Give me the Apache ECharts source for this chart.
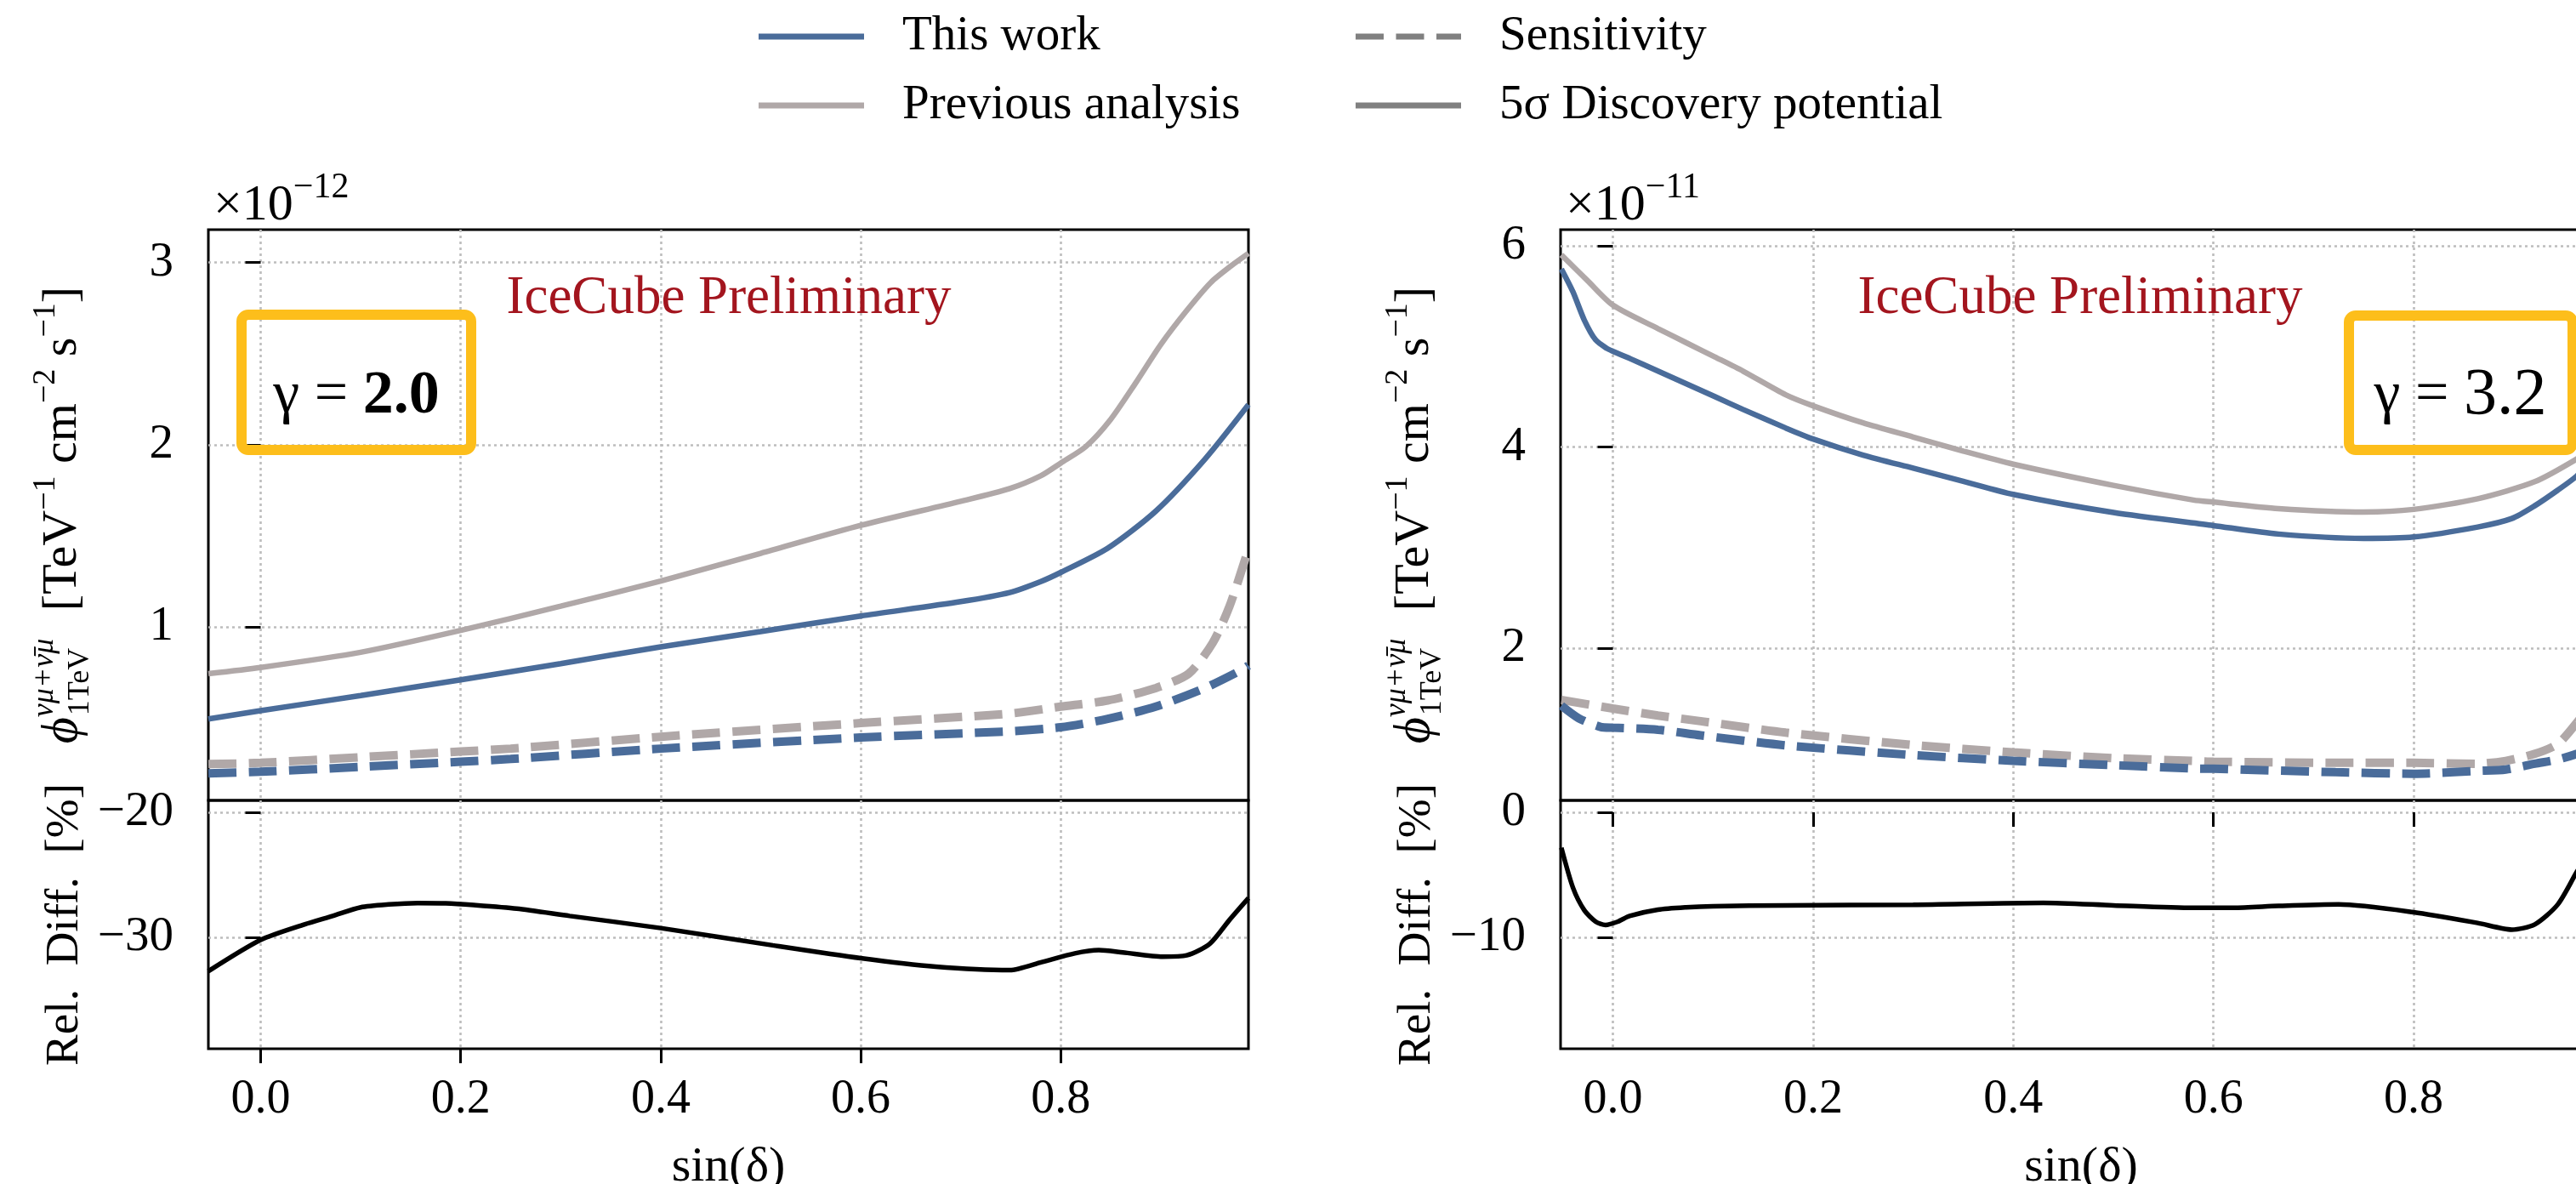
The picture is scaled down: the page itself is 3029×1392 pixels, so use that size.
<!DOCTYPE html>
<html>
<head>
<meta charset="utf-8">
<script src="https://cdn.jsdelivr.net/npm/echarts@6/dist/echarts.min.js"></script>
<style>
html,body{margin:0;padding:0;background:#fff;}
#chart{width:3029px;height:1392px;}
</style>
</head>
<body>
<div id="chart"></div>
<script>
// ================= DATA =================
// x = sin(declination). Left panel: gamma = 2.0, flux in units of 1e-12.
const xTicks = [0.0, 0.2, 0.4, 0.6, 0.8];
const leftTopTicks = [1, 2, 3];
const leftBotTicks = [-30, -20];
const rightTopTicks = [2, 4, 6];
const rightBotTicks = [-10, 0];

// Left: 5 sigma discovery potential
const L_x_thisDP = [-0.0523, 0, 0.1, 0.2, 0.3, 0.4, 0.5, 0.6, 0.7, 0.749, 0.78, 0.8, 0.847, 0.895, 0.944, 0.9877];
const L_y_thisDP = [0.497, 0.542, 0.625, 0.711, 0.800, 0.892, 0.976, 1.061, 1.140, 1.190, 1.250, 1.300, 1.433, 1.636, 1.920, 2.220];
const L_x_prevDP = [-0.0523, 0, 0.1, 0.2, 0.3, 0.4, 0.5, 0.6, 0.7, 0.749, 0.78, 0.8, 0.825, 0.85, 0.875, 0.9, 0.925, 0.95, 0.97, 0.9877];
const L_y_prevDP = [0.745, 0.779, 0.862, 0.982, 1.115, 1.253, 1.405, 1.558, 1.690, 1.760, 1.830, 1.900, 1.990, 2.140, 2.340, 2.550, 2.730, 2.890, 2.980, 3.050];
// Left: sensitivity
const L_x_thisSens = [-0.0523, 0, 0.1, 0.2, 0.25, 0.4, 0.6, 0.749, 0.8, 0.847, 0.895, 0.944, 0.9815, 0.9877];
const L_y_thisSens = [0.198, 0.207, 0.234, 0.262, 0.277, 0.334, 0.395, 0.429, 0.451, 0.497, 0.564, 0.666, 0.767, 0.790];
const L_x_prevSens = [-0.0523, 0, 0.1, 0.2, 0.25, 0.4, 0.6, 0.749, 0.8, 0.847, 0.895, 0.928, 0.952, 0.969, 0.9877];
const L_y_prevSens = [0.249, 0.256, 0.287, 0.318, 0.334, 0.399, 0.474, 0.526, 0.564, 0.598, 0.666, 0.745, 0.914, 1.118, 1.430];
// Left: relative difference [%]
const L_x_rel = [-0.0524, 0, 0.0437, 0.072, 0.100, 0.128, 0.157, 0.185, 0.213, 0.256, 0.309, 0.4, 0.512, 0.6, 0.675, 0.749, 0.781, 0.814, 0.838, 0.862, 0.902, 0.926, 0.949, 0.969, 0.9877];
const L_y_rel = [-32.73, -30.22, -28.98, -28.30, -27.61, -27.38, -27.27, -27.29, -27.43, -27.72, -28.30, -29.27, -30.65, -31.68, -32.36, -32.64, -32.00, -31.30, -31.04, -31.22, -31.56, -31.45, -30.53, -28.59, -26.87];

// Right panel: gamma = 3.2, flux in units of 1e-11
const R_x_thisDP = [-0.0515, -0.04, -0.0286, -0.0173, -0.006, 0, 0.0167, 0.045, 0.0734, 0.1018, 0.13, 0.1726, 0.2, 0.25, 0.3, 0.35, 0.4, 0.5, 0.6, 0.665, 0.75, 0.8, 0.864, 0.898, 0.921, 0.944, 0.963, 0.9877];
const R_y_thisDP = [5.77, 5.544, 5.262, 5.065, 4.98, 4.952, 4.881, 4.755, 4.628, 4.501, 4.374, 4.19, 4.08, 3.92, 3.79, 3.66, 3.53, 3.35, 3.22, 3.136, 3.093, 3.107, 3.206, 3.29, 3.417, 3.572, 3.713, 3.95];
const R_x_prevDP = [-0.0515, -0.025, 0, 0.045, 0.0734, 0.1018, 0.13, 0.1726, 0.2, 0.25, 0.3, 0.35, 0.4, 0.5, 0.58, 0.6, 0.665, 0.75, 0.8, 0.864, 0.921, 0.963, 0.9877];
const R_y_prevDP = [5.91, 5.65, 5.41, 5.177, 5.036, 4.896, 4.755, 4.52, 4.41, 4.24, 4.10, 3.96, 3.83, 3.62, 3.474, 3.453, 3.389, 3.355, 3.381, 3.487, 3.656, 3.882, 4.05];
const R_x_thisSens = [-0.0515, -0.034, -0.0125, 0, 0.045, 0.0876, 0.1726, 0.3, 0.4, 0.5, 0.58, 0.6, 0.722, 0.8, 0.864, 0.892, 0.921, 0.944, 0.963, 0.9877];
const R_y_thisSens = [1.431, 1.305, 1.22, 1.212, 1.192, 1.136, 1.037, 0.94, 0.883, 0.84, 0.807, 0.804, 0.77, 0.755, 0.783, 0.797, 0.854, 0.896, 0.952, 1.05];
const R_x_prevSens = [-0.0515, 0, 0.045, 0.0876, 0.1726, 0.3, 0.4, 0.5, 0.58, 0.6, 0.722, 0.8, 0.864, 0.892, 0.921, 0.944, 0.963, 0.9877];
const R_y_prevSens = [1.488, 1.403, 1.333, 1.277, 1.164, 1.04, 0.967, 0.91, 0.882, 0.874, 0.863, 0.863, 0.854, 0.882, 0.952, 1.051, 1.262, 1.6];
const R_x_rel = [-0.0515, -0.04, -0.0286, -0.0173, -0.0074, 0.005, 0.0167, 0.045, 0.073, 0.1, 0.1726, 0.3, 0.43, 0.5, 0.58, 0.62, 0.665, 0.725, 0.8, 0.864, 0.898, 0.921, 0.944, 0.963, 0.9877];
const R_y_rel = [-2.84, -6.02, -7.84, -8.75, -9.02, -8.75, -8.3, -7.8, -7.61, -7.52, -7.45, -7.4, -7.25, -7.45, -7.65, -7.65, -7.5, -7.38, -8.0, -8.86, -9.39, -8.98, -7.38, -4.77, -1.5];

// ================= STYLE =================
const FONT = '"Liberation Serif", "Times New Roman", serif';
const BLUE = '#4a6c9a';
const GRAY = '#b0a8a8';
const LEG_GRAY = '#808080';
const DASH = [33, 14.5];
const ICON_SOLID = 'path://M0,0H124V7H0Z';
const ICON_DASH = 'path://M0,0H33V7H0Z M47.5,0H80.5V7H47.5Z M95,0H124V7H95Z';

function zip(xs, ys) { return xs.map((x, i) => [x, ys[i]]); }
function minus(v) { return (v < 0 ? '\u2212' : '') + Math.abs(v); }

function line(xs, ys, idx, color, dashed) {
  return {
    type: 'line', xAxisIndex: idx, yAxisIndex: idx,
    data: zip(xs, ys), symbol: 'none', smooth: 0.25,
    lineStyle: { color: color, width: dashed ? 10 : 6.5, type: dashed ? DASH : 'solid', cap: 'butt' },
    itemStyle: { color: color }, silent: true
  };
}

const splitLine = { show: true, lineStyle: { type: [3, 4], color: '#bdbdbd', width: 2.6 } };
const X_MIN = -0.0523, X_MAX = 0.9877;

function xAxis(idx, bottom) {
  const a = {
    type: 'value', gridIndex: idx, min: X_MIN, max: X_MAX,
    axisLine: { show: false },
    axisTick: { show: bottom, customValues: xTicks, length: 17, inside: false, lineStyle: { color: '#000', width: 3 } },
    axisLabel: { show: bottom, customValues: xTicks, margin: 32, formatter: v => v.toFixed(1), fontSize: 56, fontFamily: FONT, color: '#000' },
    splitLine: splitLine
  };
  if (bottom) {
    a.name = 'sin(\u03b4)';
    a.nameLocation = 'middle';
    a.nameGap = 108;
    a.nameTextStyle = { fontSize: 58, fontFamily: FONT, color: '#000', lineHeight: 64 };
  }
  return a;
}

const fluxNameRich = {
  phi: { fontSize: 60, fontStyle: 'italic', lineHeight: 78, align: 'left', fontFamily: FONT, color: '#000' },
  sup: { fontSize: 36, fontStyle: 'italic', lineHeight: 36, verticalAlign: 'top', align: 'left', width: 2, fontFamily: FONT, color: '#000' },
  sub: { fontSize: 36, lineHeight: 36, verticalAlign: 'bottom', align: 'left', fontFamily: FONT, color: '#000' },
  r: { fontSize: 58, lineHeight: 78, align: 'left', fontFamily: FONT, color: '#000' },
  e: { fontSize: 38, lineHeight: 38, verticalAlign: 'top', align: 'left', fontFamily: FONT, color: '#000' }
};
const fluxName = '{phi|\u03d5}{sup|\u03bd\u03bc+\u03bd\u0304\u03bc}{sub|1TeV}{r|   [TeV}{e|\u22121}{r| cm}{e|\u22122}{r| s}{e|\u22121}{r|]}';

function yAxis(idx, min, max, ticks, name, rich) {
  return {
    type: 'value', gridIndex: idx, min: min, max: max,
    axisLine: { show: false },
    axisTick: { show: true, customValues: ticks, length: 18, inside: false, lineStyle: { color: '#000', width: 3 } },
    axisLabel: { customValues: ticks, margin: 41, formatter: v => minus(v), fontSize: 57, fontFamily: FONT, color: '#000' },
    splitLine: splitLine,
    name: name, nameLocation: 'middle',
    nameGap: rich ? 132 : 138,
    nameTextStyle: rich ? { rich: fluxNameRich } : { fontSize: 55, lineHeight: 60, fontFamily: FONT, color: '#000' }
  };
}

const gridBase = { show: true, borderColor: '#000', borderWidth: 3, backgroundColor: 'transparent', containLabel: false, outerBoundsMode: 'none' };

const legendText = { fontFamily: FONT, fontSize: 57, color: '#000', lineHeight: 60, padding: [0, 0, 0, 40] };

const option = {
  animation: false,
  backgroundColor: '#fff',
  grid: [
    Object.assign({ left: 245, top: 270, width: 1223, height: 671 }, gridBase),
    Object.assign({ left: 245, top: 941, width: 1223, height: 292 }, gridBase),
    Object.assign({ left: 1835, top: 270, width: 1224, height: 671 }, gridBase),
    Object.assign({ left: 1835, top: 941, width: 1224, height: 292 }, gridBase)
  ],
  xAxis: [xAxis(0, false), xAxis(1, true), xAxis(2, false), xAxis(3, true)],
  yAxis: [
    yAxis(0, 0.05, 3.18, leftTopTicks, fluxName, true),
    yAxis(1, -38.93, -19.05, leftBotTicks, 'Rel.  Diff.  [%]', false),
    yAxis(2, 0.49, 6.16, rightTopTicks, fluxName, true),
    yAxis(3, -18.93, 0.95, rightBotTicks, 'Rel.  Diff.  [%]', false)
  ],
  legend: [
    { orient: 'vertical', left: 892, top: 13, padding: 0, itemWidth: 124, itemHeight: 7, itemGap: 21,
      selectedMode: false, textStyle: legendText,
      data: [{ name: 'This work', icon: ICON_SOLID }, { name: 'Previous analysis', icon: ICON_SOLID }] },
    { orient: 'vertical', left: 1594, top: 13, padding: 0, itemWidth: 124, itemHeight: 7, itemGap: 21,
      selectedMode: false, textStyle: legendText,
      data: [{ name: 'Sensitivity', icon: ICON_DASH }, { name: '5\u03c3 Discovery potential', icon: ICON_SOLID }] }
  ],
  series: [
    // legend proxies (no data)
    { name: 'This work', type: 'line', data: [], symbol: 'none', xAxisIndex: 0, yAxisIndex: 0, itemStyle: { color: BLUE }, lineStyle: { color: BLUE, width: 7 } },
    { name: 'Previous analysis', type: 'line', data: [], symbol: 'none', xAxisIndex: 0, yAxisIndex: 0, itemStyle: { color: GRAY }, lineStyle: { color: GRAY, width: 7 } },
    { name: 'Sensitivity', type: 'line', data: [], symbol: 'none', xAxisIndex: 0, yAxisIndex: 0, itemStyle: { color: LEG_GRAY }, lineStyle: { color: LEG_GRAY, width: 8, type: DASH } },
    { name: '5\u03c3 Discovery potential', type: 'line', data: [], symbol: 'none', xAxisIndex: 0, yAxisIndex: 0, itemStyle: { color: LEG_GRAY }, lineStyle: { color: LEG_GRAY, width: 7 } },
    // left panel
    line(L_x_prevDP, L_y_prevDP, 0, GRAY, false),
    line(L_x_thisDP, L_y_thisDP, 0, BLUE, false),
    line(L_x_prevSens, L_y_prevSens, 0, GRAY, true),
    line(L_x_thisSens, L_y_thisSens, 0, BLUE, true),
    Object.assign(line(L_x_rel, L_y_rel, 1, '#000', false), { lineStyle: { color: '#000', width: 5.5 } }),
    // right panel
    line(R_x_prevDP, R_y_prevDP, 2, GRAY, false),
    line(R_x_thisDP, R_y_thisDP, 2, BLUE, false),
    line(R_x_prevSens, R_y_prevSens, 2, GRAY, true),
    line(R_x_thisSens, R_y_thisSens, 2, BLUE, true),
    Object.assign(line(R_x_rel, R_y_rel, 3, '#000', false), { lineStyle: { color: '#000', width: 5.5 } })
  ],
  graphic: [
    { type: 'text', x: 251, y: 200, z: 20, style: { text: '{a|\u00d710}{s|\u221212}', align: 'left', verticalAlign: 'top',
      rich: { a: { fontSize: 60, lineHeight: 72, verticalAlign: 'bottom', fontFamily: FONT, fill: '#000' },
              s: { fontSize: 42, lineHeight: 42, verticalAlign: 'top', fontFamily: FONT, fill: '#000' } } } },
    { type: 'text', x: 1841, y: 200, z: 20, style: { text: '{a|\u00d710}{s|\u221211}', align: 'left', verticalAlign: 'top',
      rich: { a: { fontSize: 60, lineHeight: 72, verticalAlign: 'bottom', fontFamily: FONT, fill: '#000' },
              s: { fontSize: 42, lineHeight: 42, verticalAlign: 'top', fontFamily: FONT, fill: '#000' } } } },
    { type: 'text', x: 857, y: 351, z: 20, style: { text: 'IceCube Preliminary', fontSize: 63, fontFamily: FONT, fill: '#a3151e', align: 'center', verticalAlign: 'middle' } },
    { type: 'text', x: 2446, y: 351, z: 20, style: { text: 'IceCube Preliminary', fontSize: 63, fontFamily: FONT, fill: '#a3151e', align: 'center', verticalAlign: 'middle' } },
    { type: 'rect', z: 20, shape: { x: 284, y: 370, width: 270, height: 159, r: 8 }, style: { fill: null, stroke: '#fdbe1b', lineWidth: 12 } },
    { type: 'text', x: 419, y: 466, z: 21, style: { text: '{g|\u03b3 = }{b|2.0}', align: 'center', verticalAlign: 'middle',
      rich: { g: { fontSize: 70, fontFamily: FONT, fill: '#000' }, b: { fontSize: 72, fontWeight: 'bold', fontFamily: FONT, fill: '#000' } } } },
    { type: 'rect', z: 20, shape: { x: 2762, y: 371, width: 263, height: 158, r: 8 }, style: { fill: null, stroke: '#fdbe1b', lineWidth: 12 } },
    { type: 'text', x: 2893, y: 466, z: 21, style: { text: '{g|\u03b3 = }{b|3.2}', align: 'center', verticalAlign: 'middle',
      rich: { g: { fontSize: 70, fontFamily: FONT, fill: '#000' }, b: { fontSize: 78, fontFamily: FONT, fill: '#000' } } } }
  ]
};

const chart = echarts.init(document.getElementById('chart'), null, { renderer: 'canvas' });
chart.setOption(option);
</script>
</body>
</html>
